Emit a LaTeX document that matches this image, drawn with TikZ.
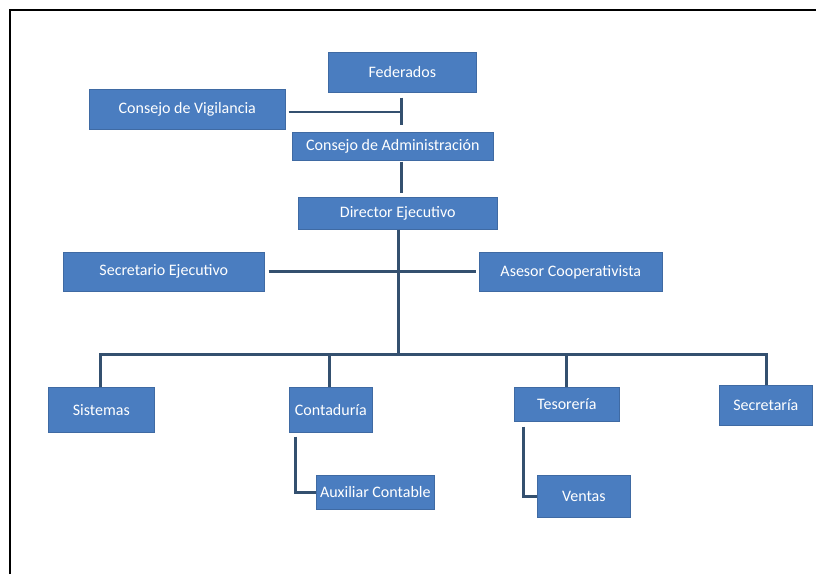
\documentclass[tikz,border=0pt]{standalone}
\usepackage{fontspec}
\setmainfont{Carlito}
\usetikzlibrary{calc}
\definecolor{boxblue}{HTML}{4A7DC0}
\definecolor{linecol}{HTML}{34506F}
\begin{document}
\begin{tikzpicture}[x=1pt,y=-1pt,
  box/.style={fill=boxblue,draw=boxblue!85!black,line width=0.6pt,text=white,inner sep=0pt,anchor=north west,
    font=\fontsize{16}{17}\selectfont},
  conn/.style={draw=linecol,line width=3pt}]
\useasboundingbox (0,0) rectangle (816,574);
\fill[white] (0,0) rectangle (816,574);
\draw[black,line width=2pt] (10,574) -- (10,10) -- (816,10);
% boxes
\node[box,minimum width=148,minimum height=40] (fed) at (328,52) {Federados};
\node[box,minimum width=196,minimum height=40] (vig) at (89,89) {Consejo de Vigilancia};
\node[box,minimum width=201,minimum height=28] (adm) at (292,132) {Consejo de Administración};
\node[box,minimum width=199,minimum height=32] (dir) at (298,197) {Director Ejecutivo};
\node[box,minimum width=201,minimum height=39] (sec) at (63,252) {Secretario Ejecutivo};
\node[box,minimum width=183,minimum height=39] (ase) at (479,252) {Asesor Cooperativista};
\node[box,minimum width=106,minimum height=45] (sis) at (48,387) {Sistemas};
\node[box,minimum width=83,minimum height=45] (con) at (289,387) {Contaduría};
\node[box,minimum width=105,minimum height=34] (tes) at (514,387) {Tesorería};
\node[box,minimum width=93,minimum height=40] (sria) at (719,385) {Secretaría};
\node[box,minimum width=118,minimum height=34] (aux) at (316,475) {Auxiliar Contable};
\node[box,minimum width=93,minimum height=42] (ven) at (537,475) {Ventas};
% coordinates
\coordinate (tick) at (401,112);
\coordinate (bus) at (398,354);
\coordinate (busL) at (100,354);
\coordinate (busR) at (766,354);
\coordinate (busC) at (329,354);
\coordinate (busT) at (566,354);
\coordinate (vpt) at (523,496);
% connectors
\draw[conn] ($(fed.south -| tick)+(0,5)$) -- ($(adm.north -| tick)+(0,-7)$);
\draw[conn,line width=2.6pt] ($(vig.east |- tick)+(3,0)$) -- (tick);
\draw[conn] ($(adm.south -| tick)+(0,1)$) -- ($(dir.north -| tick)+(0,-4)$);
\draw[conn] (dir.south -| bus) -- (bus);
\draw[conn] ($(sec.east)+(4,0)$) -- ($(ase.west)+(-3,0)$);
\draw[conn] (sis.north -| busL) -- (busL) -- (busR) -- (sria.north -| busR);
\draw[conn] (busC) -- (con.north -| busC);
\draw[conn] (busT) -- (tes.north -| busT);
\draw[conn] ($(con.south west)+(6,4)$) |- (aux.west);
\draw[conn] ($(tes.south west)+(9,5)$) |- (ven.west |- vpt);
\end{tikzpicture}
\end{document}
